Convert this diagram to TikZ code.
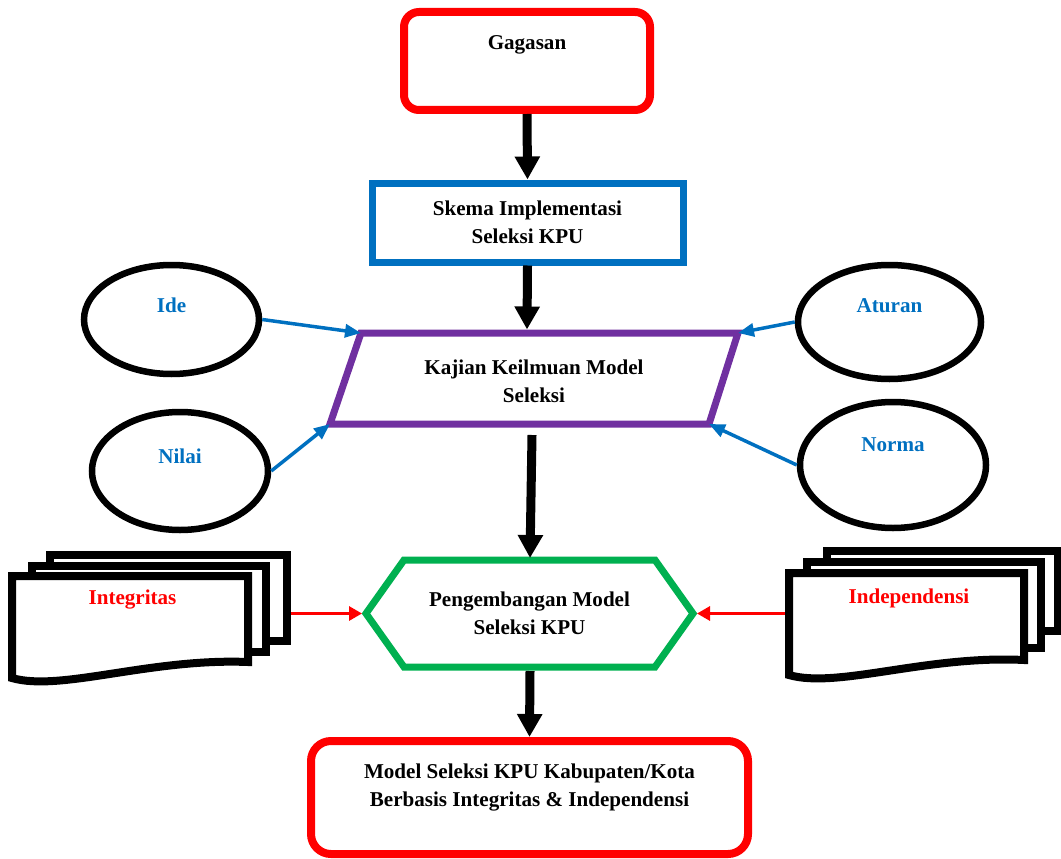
\documentclass[tikz,border=0pt]{standalone}
\usepackage{fontspec}
\setmainfont{Liberation Serif}
\usepackage{xcolor}
\usepackage{tikz}
\usetikzlibrary{arrows.meta, positioning, shapes.geometric}
\definecolor{boxred}{HTML}{FF0000}
\definecolor{boxblue}{HTML}{0070C0}
\definecolor{boxpurple}{HTML}{7030A0}
\definecolor{boxgreen}{HTML}{00B050}

\begin{document}
\begin{tikzpicture}[
    font=\fontsize{12}{16}\selectfont\bfseries,
    stage/.style={draw=#1, align=center},
    idea/.style={ellipse, draw, line width=0.13cm},
    doc/.style={draw, line width=0.16cm, fill=white},
    bigarrow/.style={line width=0.18cm, -{Triangle[length=0.46cm, width=0.48cm]}},
    bluearrow/.style={draw=boxblue, line width=0.07cm, -{Triangle[length=0.32cm, width=0.26cm]}},
    redarrow/.style={draw=boxred, line width=0.06cm, -{Triangle[length=0.26cm, width=0.28cm]}},
]
    \useasboundingbox (0,0) rectangle (21.22,17.16);

    % main column
    \node[stage=boxred, line width=0.16cm, rounded corners=0.3cm, minimum width=4.92cm, minimum height=1.96cm,
        label={[yshift=0.32cm]center:Gagasan}] (g) at (10.54,15.94) {};
    \node[stage=boxblue, line width=0.14cm, minimum width=6.22cm, minimum height=1.58cm] (s) at (10.55,12.71) {Skema Implementasi\\Seleksi KPU};

    \coordinate (k-nw) at (7.22,10.50);
    \coordinate (k-ne) at (14.76,10.50);
    \coordinate (k-se) at (14.18,8.68);
    \coordinate (k-sw) at (6.60,8.68);
    \coordinate (k-n) at (10.54,10.57);
    \coordinate (k-s) at (10.64,8.46);
    \draw[boxpurple, line width=0.14cm] (k-sw) -- (k-nw) -- (k-ne) -- (k-se) -- cycle;
    \node[align=center] (k) at (10.68,9.53) {Kajian Keilmuan Model\\Seleksi};

    \coordinate (h-w) at (7.32,4.89);
    \coordinate (h-nw) at (8.08,5.96);
    \coordinate (h-ne) at (13.10,5.96);
    \coordinate (h-e) at (13.86,4.89);
    \coordinate (h-se) at (13.10,3.82);
    \coordinate (h-sw) at (8.08,3.82);
    \coordinate (h-n) at (10.60,6.00);
    \coordinate (h-s) at (10.60,3.74);
    \draw[boxgreen, line width=0.14cm] (h-w) -- (h-nw) -- (h-ne) -- (h-e) -- (h-se) -- (h-sw) -- cycle;
    \node[align=center] (h) at (10.59,4.90) {Pengembangan Model\\Seleksi KPU};

    \node[stage=boxred, line width=0.16cm, rounded corners=0.4cm, minimum width=8.74cm, minimum height=2.26cm,
        label={[align=center, yshift=0.2cm]center:Model Seleksi KPU Kabupaten/Kota\\Berbasis Integritas \& Independensi}] (m) at (10.59,1.21) {};

    % ellipses
    \node[idea, minimum width=3.50cm, minimum height=2.18cm, label={[text=boxblue, yshift=0.29cm]center:Ide}] (i) at (3.43,10.77) {};
    \node[idea, minimum width=3.52cm, minimum height=2.36cm, label={[text=boxblue, yshift=0.30cm]center:Nilai}] (n) at (3.60,7.74) {};
    \node[idea, minimum width=3.66cm, minimum height=2.28cm, label={[text=boxblue, yshift=0.32cm]center:Aturan}] (a) at (17.79,10.72) {};
    \node[idea, minimum width=3.72cm, minimum height=2.52cm, label={[text=boxblue, yshift=0.40cm]center:Norma}] (no) at (17.86,7.86) {};

    % document stacks
    \draw[doc] (1.00,4.34) rectangle (5.74,6.06);
    \draw[doc] (0.64,4.12) rectangle (5.32,5.84);
    \draw[doc] (0.24,3.60) -- (0.24,5.64) -- (4.96,5.64) -- (4.96,3.92) .. controls (3.00,4.00) and (1.20,3.32) .. (0.24,3.60) -- cycle;
    \node[text=boxred] (it) at (2.65,5.16) {Integritas};
    \coordinate (it-e) at (5.82,4.89);

    \draw[doc] (16.54,4.54) rectangle (21.16,6.14);
    \draw[doc] (16.14,4.20) rectangle (20.82,5.92);
    \draw[doc] (15.78,3.66) -- (15.78,5.70) -- (20.48,5.70) -- (20.48,3.96) .. controls (18.54,4.06) and (16.74,3.38) .. (15.78,3.66) -- cycle;
    \node[text=boxred] (ind) at (18.18,5.20) {Independensi};
    \coordinate (ind-w) at (15.70,4.89);

    % arrows
    \draw[bigarrow] (g.south) -- (s.north);
    \draw[bigarrow] (s.south) -- (k-n);
    \draw[bigarrow] (k-s) -- (h-n);
    \draw[bigarrow] (h-s) -- (m.north);

    \draw[bluearrow] (i.east) -- (k-nw);
    \draw[bluearrow] (a.west) -- (k-ne);
    \draw[bluearrow] (n.east) -- (k-sw);
    \draw[bluearrow] (no.west) -- (k-se);

    \draw[redarrow, shorten >=0.08cm] (it-e) -- (h-w);
    \draw[redarrow, shorten >=0.08cm] (ind-w) -- (h-e);
\end{tikzpicture}
\end{document}
